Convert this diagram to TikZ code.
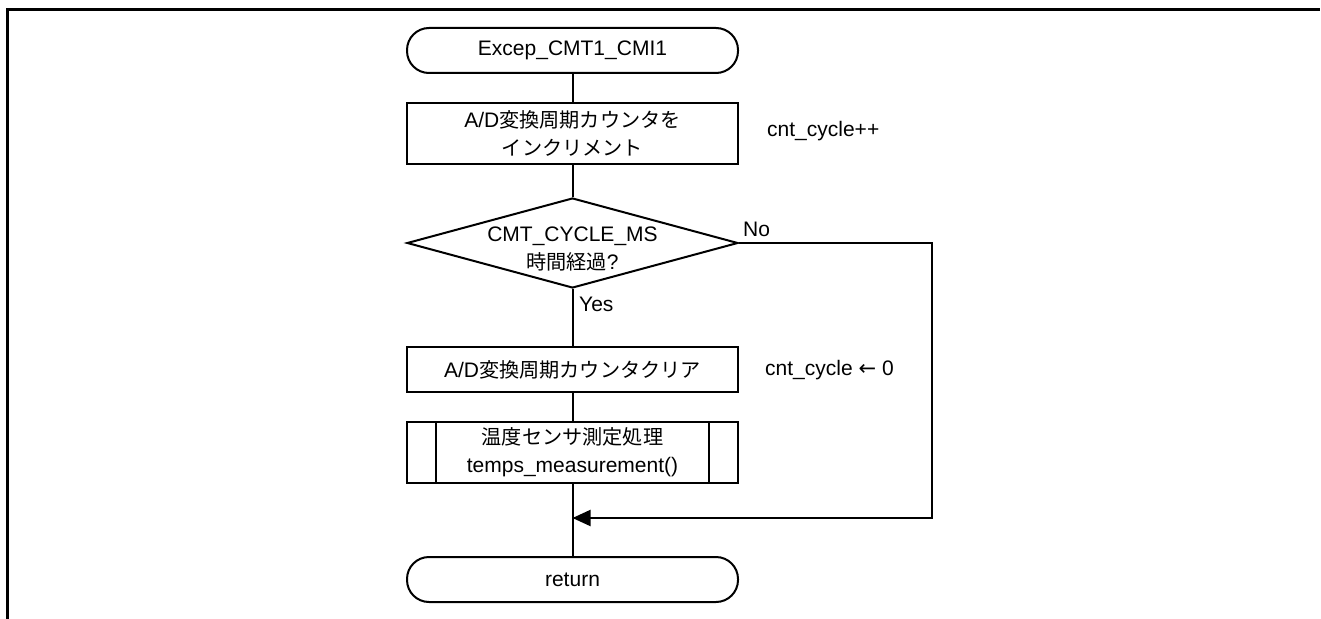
\documentclass[tikz,border=0pt]{standalone}
\usepackage{fontspec}
\setmainfont{Liberation Sans}
\newfontfamily\jp[Scale=0.96]{Noto Sans CJK JP}
\usetikzlibrary{arrows.meta,shapes.geometric}

\begin{document}
\begin{tikzpicture}[x=1bp,y=-1bp,
  every node/.style={font=\fontsize{21bp}{28bp}\selectfont, text=black},
  flowline/.style={draw=black, line width=2bp},
  term/.style={draw, line width=2bp, rounded corners=22bp, minimum width=331bp,
               minimum height=45bp, inner sep=0pt},
  proc/.style={draw, line width=2bp, minimum width=331bp, minimum height=#1,
               inner sep=0pt, align=center},
  decision/.style={diamond, draw, line width=2bp, minimum width=331bp,
                   minimum height=90bp, inner sep=0pt},
  note/.style={anchor=west, inner sep=0pt},
  tip/.style={-{Triangle[length=18bp,width=16bp]}}
]
\useasboundingbox (0,0) rectangle (1321,619);

% page frame
\draw[line width=3bp] (7.5,619) -- (7.5,9.5) -- (1320,9.5);

% flowchart nodes
\node[term] (start) at (572.5,50.5) {Excep\_CMT1\_CMI1};
\node[proc=61bp] (inc) at (572.5,133.5) {A/D{\jp 変換周期カウンタを}\\{\jp インクリメント}};
\node[decision] (dec) at (572.5,243) {};
\node[align=center, inner sep=0pt] (dectext) at (572.5,249) {CMT\_CYCLE\_MS\\{\jp 時間経過}?};
\node[proc=45bp] (clr) at (572.5,369.5) {A/D{\jp 変換周期カウンタクリア}};
\node[proc=61bp] (meas) at (572.5,452.5) {{\jp 温度センサ測定処理}\\temps\_measurement()};
\draw[line width=2bp] ([xshift=30bp]meas.north west) -- ([xshift=30bp]meas.south west);
\draw[line width=2bp] ([xshift=-30bp]meas.north east) -- ([xshift=-30bp]meas.south east);
\node[term] (ret) at (572.5,579.5) {return};

% side notes and branch labels
\node[note] (n1) at (767,131) {cnt\_cycle++};
\node[note] (n2) at (765,370) {cnt\_cycle {\fontspec{DejaVu Sans}←} 0};
\node[note] (no) at (743,229) {No};
\node[note] (yes) at (579,304) {Yes};

% connectors
\coordinate (ncorner) at (932,243);
\coordinate (ncorner2) at (932,518);
\coordinate (join) at (572.5,518);
\draw[flowline] (start.south) -- (inc.north);
\draw[flowline] (inc.south) -- (dec.north);
\draw[flowline] (dec.south) -- (clr.north);
\draw[flowline] (clr.south) -- (meas.north);
\draw[flowline] (meas.south) -- (ret.north);
\draw[flowline, tip] (dec.east) -- (ncorner) -- (ncorner2) -- (join);
\end{tikzpicture}
\end{document}
